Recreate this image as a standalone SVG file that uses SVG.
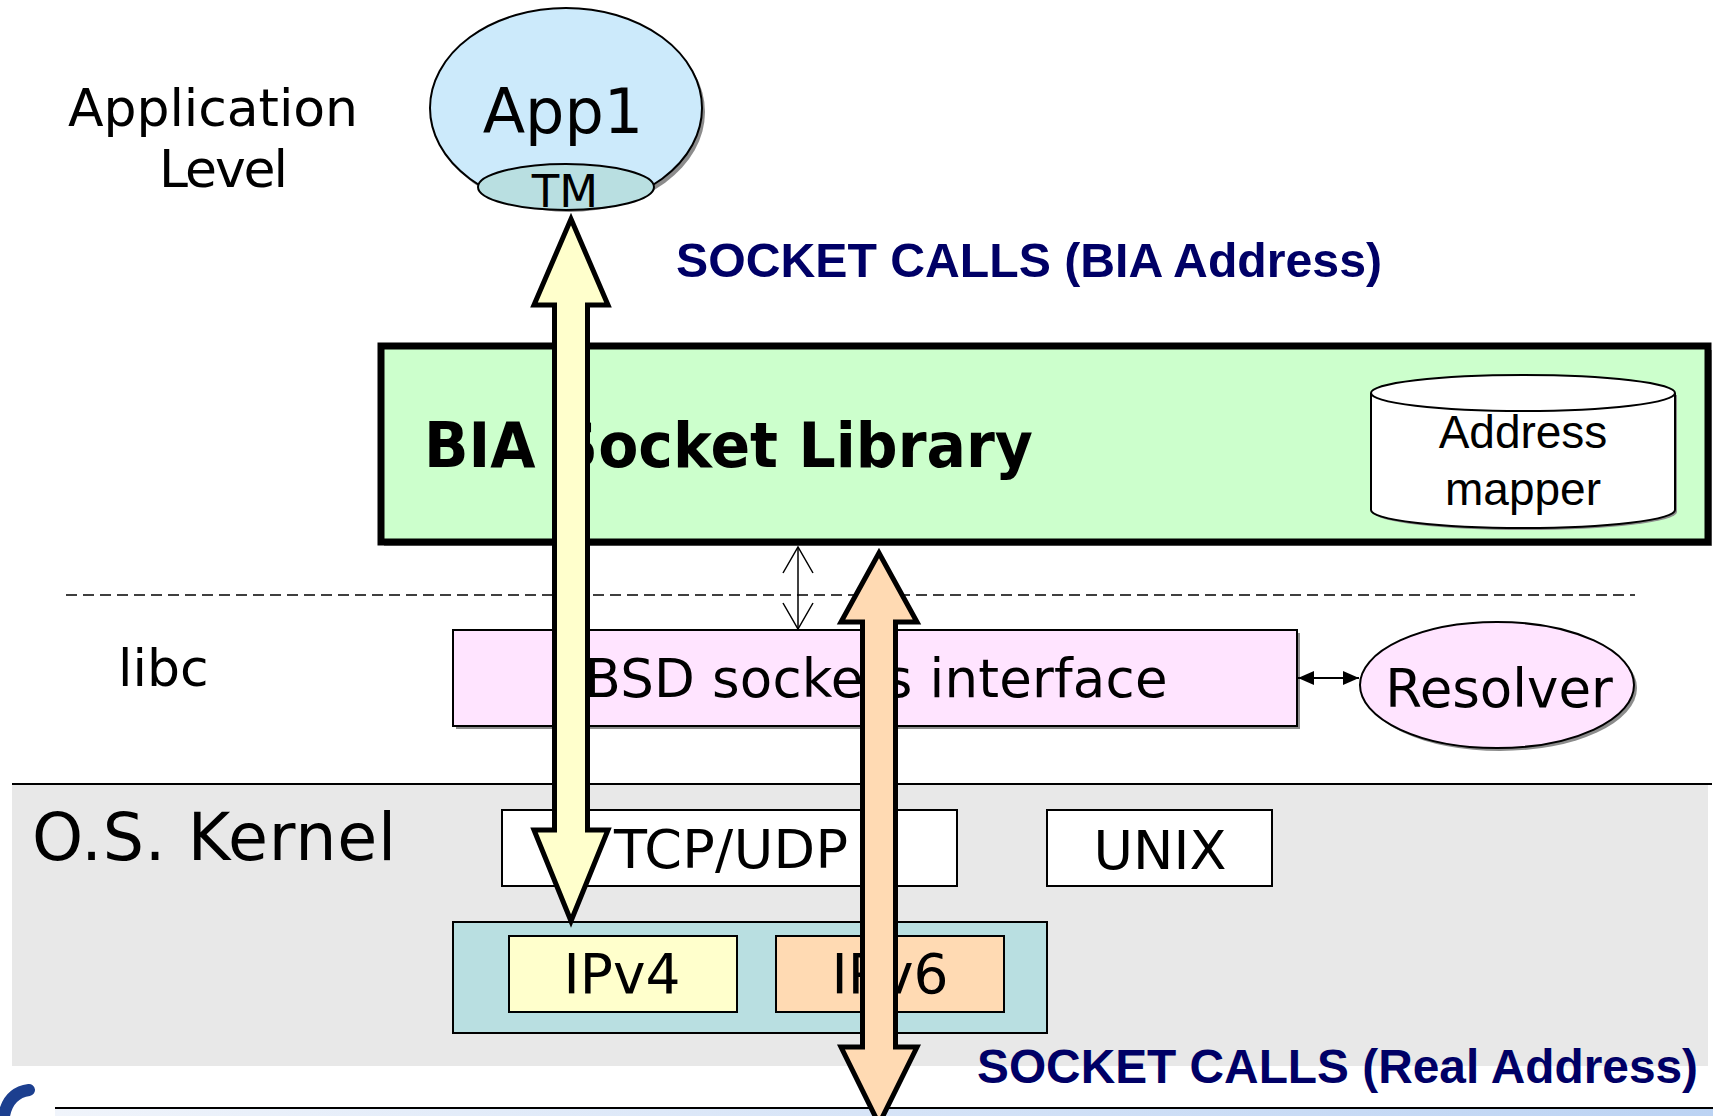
<svg xmlns="http://www.w3.org/2000/svg" width="1713" height="1116" viewBox="0 0 1713 1116">
<style>
.sans{font-family:"DejaVu Sans","Noto Sans",sans-serif;fill:#000}
.ar{font-family:"Liberation Sans",Arial,sans-serif;fill:#000}
.nav{font-family:"Liberation Sans",Arial,sans-serif;font-weight:bold;fill:#000066}
.box{stroke:#000;stroke-width:2}
.shd{fill:#8c8c8c}
.big{stroke:#000;stroke-width:5;stroke-linejoin:miter;stroke-miterlimit:12}
.thin{stroke:#000;stroke-width:1.5;fill:none}
</style>
<defs>
<linearGradient id="blu" x1="0" y1="0" x2="1" y2="0">
<stop offset="0" stop-color="#f0f4fb"/>
<stop offset="1" stop-color="#bcd3f3"/>
</linearGradient>
<marker id="fh" viewBox="0 0 16 14" refX="16" refY="7" markerWidth="16" markerHeight="14" markerUnits="userSpaceOnUse" orient="auto-start-reverse">
<path d="M0,0 L16,7 L0,14 z" fill="#000"/>
</marker>
</defs>
<rect width="1713" height="1116" fill="#fff"/>

<g id="kernel-layer">
<rect x="12" y="785" width="1696" height="281" fill="#e8e8e8"/>
<line x1="12" y1="784" x2="1712" y2="784" stroke="#000" stroke-width="2"/>
<text class="sans" x="32" y="860" font-size="65" textLength="364">O.S. Kernel</text>
</g>

<g id="footer">
<rect x="55" y="1108" width="1658" height="8" fill="url(#blu)"/>
<line x1="55" y1="1108" x2="1713" y2="1108" stroke="#000" stroke-width="2"/>
<path d="M4,1116 Q8,1093 29,1090" stroke="#1c3f8f" stroke-width="12" stroke-linecap="round" fill="none"/>
</g>

<g id="app-level-label">
<text class="sans" x="68" y="126" font-size="52" textLength="290">Application</text>
<text class="sans" x="159" y="187" font-size="52" textLength="129">Level</text>
</g>

<g id="libc-label">
<text class="sans" x="118" y="686" font-size="52">libc</text>
</g>

<g id="separator">
<line x1="66" y1="595" x2="1635" y2="595" stroke="#000" stroke-width="1.5" stroke-dasharray="11,6"/>
</g>

<g id="bia-library">
<rect x="384" y="350" width="1328" height="196" class="shd"/>
<rect x="381" y="346" width="1327" height="196" fill="#ccffcc" stroke="#000" stroke-width="7"/>
<text class="sans" x="424" y="467" font-size="62" font-weight="bold" textLength="609" lengthAdjust="spacingAndGlyphs">BIA Socket Library</text>
</g>

<g id="address-mapper">
<path d="M1373,395 v117 a152,18 0 0 0 304,0 v-117 z" class="shd"/>
<path d="M1371,393 v117 a152,18 0 0 0 304,0 v-117 a152,18 0 0 0 -304,0 z" fill="#fff" stroke="#000" stroke-width="2"/>
<path d="M1371,393 a152,18 0 0 0 304,0" fill="none" stroke="#000" stroke-width="2"/>
<text class="ar" x="1523" y="448" font-size="46" text-anchor="middle">Address</text>
<text class="ar" x="1523" y="505" font-size="46" text-anchor="middle">mapper</text>
</g>

<g id="bsd-sockets">
<rect x="456" y="633" width="844" height="96" class="shd"/>
<rect x="453" y="630" width="844" height="96" fill="#ffe4ff" class="box"/>
<text class="sans" x="876" y="697" font-size="53" text-anchor="middle" textLength="583">BSD sockets interface</text>
</g>

<g id="resolver">
<ellipse cx="1500" cy="688" rx="137" ry="63" class="shd"/>
<ellipse cx="1497" cy="685" rx="137" ry="63" fill="#ffe4ff" class="box"/>
<text class="sans" x="1499" y="707" font-size="53" text-anchor="middle">Resolver</text>
</g>

<g id="tcp-udp">
<rect x="502" y="810" width="455" height="76" fill="#fff" class="box"/>
<text class="sans" x="731" y="868" font-size="54" text-anchor="middle" textLength="234">TCP/UDP</text>
</g>

<g id="unix">
<rect x="1047" y="810" width="225" height="76" fill="#fff" class="box"/>
<text class="sans" x="1160" y="869" font-size="54" text-anchor="middle">UNIX</text>
</g>

<g id="ip-layer">
<rect x="453" y="922" width="594" height="111" fill="#b9dfe1" class="box"/>
</g>

<g id="ipv4">
<rect x="509" y="936" width="228" height="76" fill="#ffffcc" class="box"/>
<text class="sans" x="622" y="993" font-size="55" text-anchor="middle">IPv4</text>
</g>

<g id="ipv6">
<rect x="776" y="936" width="228" height="76" fill="#ffdab3" class="box"/>
<text class="sans" x="890" y="993" font-size="55" text-anchor="middle">IPv6</text>
</g>

<g id="app1">
<ellipse cx="569" cy="112" rx="136" ry="100" class="shd"/>
<ellipse cx="566" cy="108" rx="136" ry="100" fill="#cceafb" stroke="#000" stroke-width="2"/>
<text class="sans" x="563" y="133" font-size="62" text-anchor="middle">App1</text>
</g>

<g id="tm">
<ellipse cx="566" cy="187" rx="88" ry="23" fill="#b9dfe1" stroke="#000" stroke-width="2"/>
<text class="sans" x="565" y="207" font-size="45" text-anchor="middle">TM</text>
</g>

<g id="labels">
<text class="nav" x="676" y="277" font-size="48" textLength="706" lengthAdjust="spacingAndGlyphs">SOCKET CALLS (BIA Address)</text>
<text class="nav" x="977" y="1083" font-size="48" textLength="721" lengthAdjust="spacingAndGlyphs">SOCKET CALLS (Real Address)</text>
</g>

<g id="connectors">
<line x1="798" y1="547" x2="798" y2="629" stroke="#000" stroke-width="1.5"/>
<path d="M783,573 L798,547 L813,573" class="thin"/>
<path d="M783,603 L798,629 L813,603" class="thin"/>
<line x1="1298" y1="678" x2="1359" y2="678" stroke="#000" stroke-width="2" marker-start="url(#fh)" marker-end="url(#fh)"/>
<path class="big" fill="#ffffcc" d="M571,219 L608,305 L587.5,305 L587.5,830 L608,830 L571,921 L534,830 L554.5,830 L554.5,305 L534,305 Z"/>
<path class="big" fill="#ffdab3" d="M879,553 L917,622 L895.5,622 L895.5,1047 L917,1047 L879,1124 L841,1047 L862.5,1047 L862.5,622 L841,622 Z"/>
</g>
</svg>
